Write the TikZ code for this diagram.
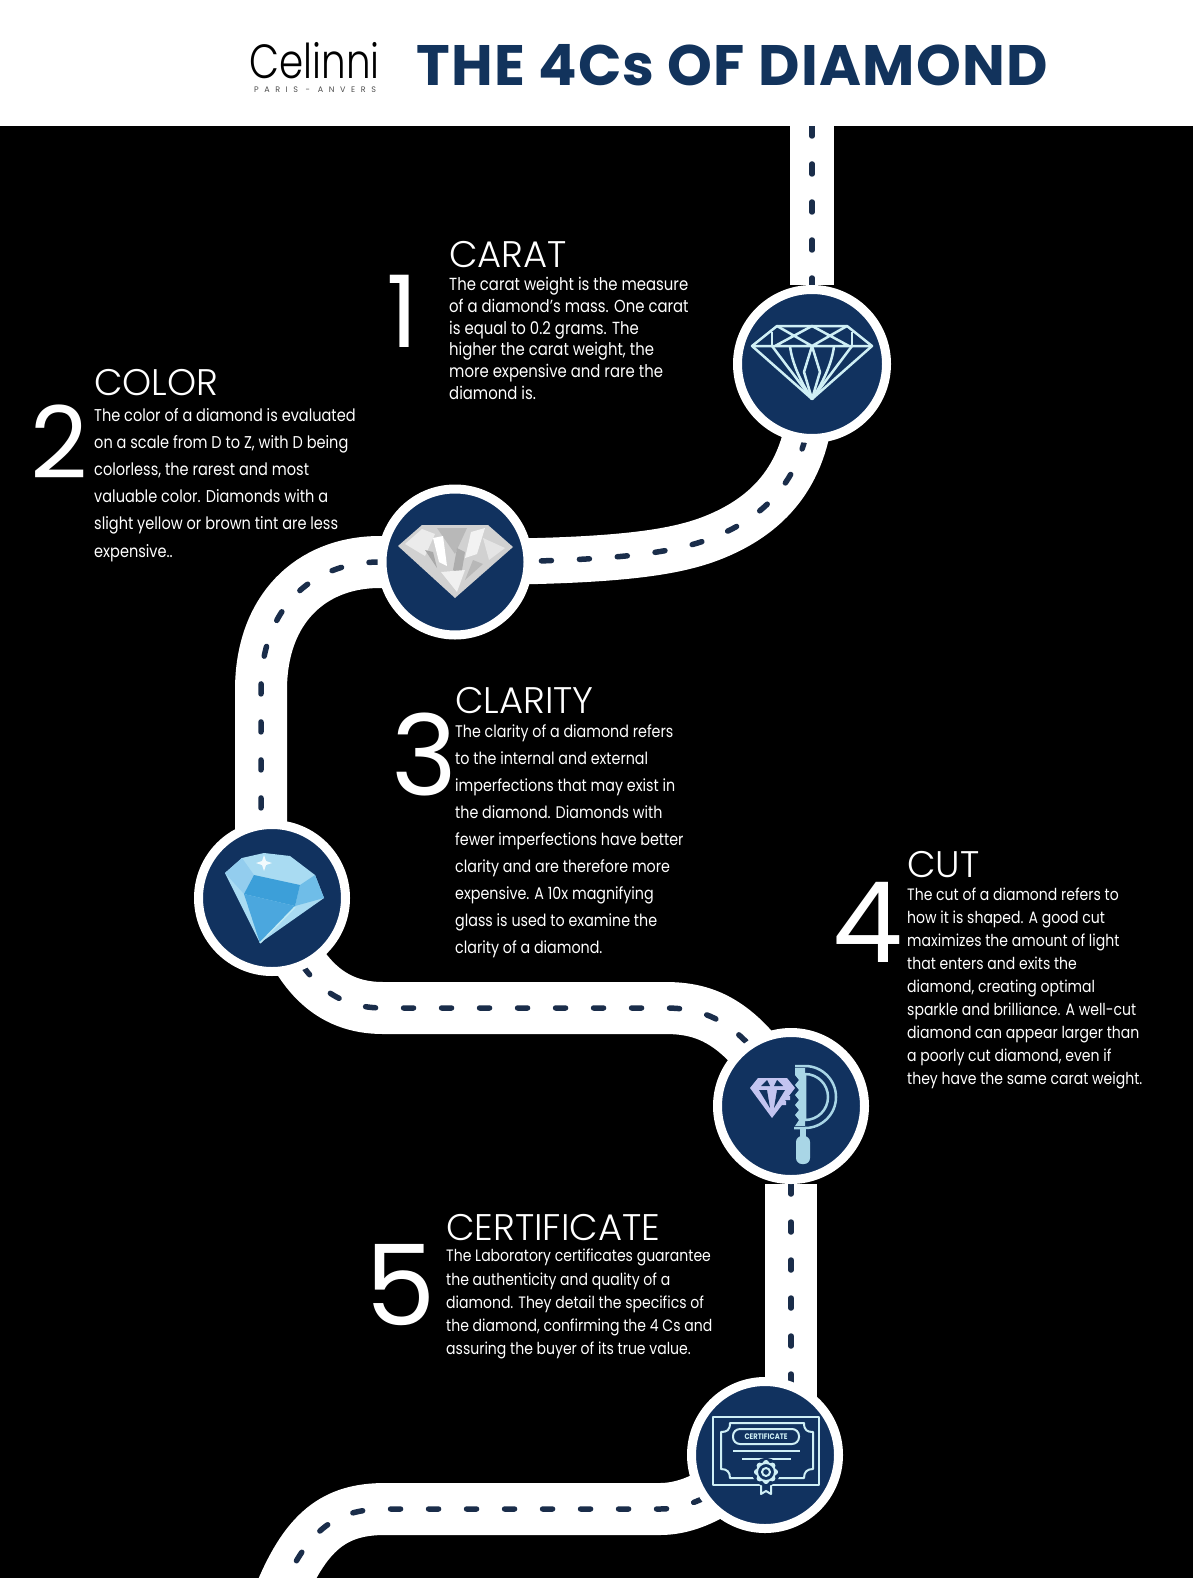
\documentclass[tikz,border=0pt]{standalone}
\usepackage{fontspec}
\usetikzlibrary{backgrounds}
\setmainfont[FakeStretch=0.85]{Poppins}
\newfontfamily\headfont{Poppins Light}
\newfontfamily\digitfont{Poppins}
\newfontfamily\logofont[FakeStretch=0.81]{Poppins Light}
\newfontfamily\subfont[LetterSpace=70]{Poppins}
\newfontfamily\titlefont[LetterSpace=2.2]{Poppins Bold}
\newfontfamily\labelfont[FakeStretch=0.85]{Poppins Bold}
\definecolor{navy}{HTML}{11325F}
\definecolor{titlenavy}{HTML}{12335C}
\definecolor{roadmark}{HTML}{1A2D4A}
\definecolor{iconpale}{HTML}{CFEFF5}
\definecolor{sawblue}{HTML}{A9D6E6}
\definecolor{lavender}{HTML}{C3C4F0}
\definecolor{gemlight}{HTML}{A9DBF2}
\definecolor{gemleft}{HTML}{93CDEE}
\definecolor{gemright}{HTML}{6FBDE8}
\definecolor{gemtable}{HTML}{3C9FD9}
\definecolor{gemlower}{HTML}{4BA7DE}
\definecolor{gemglint}{HTML}{BFE9F5}
\tikzset{
  stepdot/.style={circle,draw=white,line width=9,fill=navy,minimum size=147,inner sep=0},
  road/.style={draw=white,line width=#1,postaction={draw=roadmark,line width=5.5,line cap=round,dash pattern=on 10 off 28}},
  headtext/.style={anchor=base west,inner sep=0,text=white,font=\headfont\fontsize{37}{40}\selectfont},
  bigdigit/.style={anchor=base,inner sep=0,text=white,font=\digitfont\fontsize{#1}{#1}\selectfont},
  bodytext/.style n args={2}{anchor=north west,inner sep=0,text=white,align=left,font=\fontsize{#1}{#2}\selectfont},
  iconline/.style={draw=iconpale,line width=2,line join=round},
}
\begin{document}
\begin{tikzpicture}[x=1pt,y=-1pt]
\useasboundingbox (0,0) rectangle (1193,1578);

\node[stepdot,minimum size=149] (carat) at (812,364) {};
\node[stepdot,minimum size=146] (color) at (455,562) {};
\node[stepdot] (clarity) at (272,898) {};
\node[stepdot] (cut) at (791,1106) {};
\node[stepdot] (cert) at (765,1455) {};

\coordinate (roadtop) at (812,126);
\coordinate (clarityin) at (261,840);
\coordinate (certin) at (791,1450);
\coordinate (roadend) at (277,1602);

\begin{scope}[on background layer]
\clip (0,0) rectangle (1193,1578);
\fill[black] (0,0) rectangle (1193,1578);
\draw[road=44] (roadtop) -- (carat);
\draw[road=46] (carat.center) .. controls (815,440) and (795,497) .. (730,530) .. controls (690,550) and (640,562) .. (color.center);
\draw[road=52] (color.center) -- (380,562) .. controls (310,562) and (261,610) .. (261,690) -- (clarityin);
\draw[road=52] (clarity.center) .. controls (295,975) and (330,1008) .. (383,1008) -- (665,1008) .. controls (705,1008) and (745,1020) .. (cut.center);
\draw[road=52] (cut) -- (certin);
\draw[road=52] (cert.center) .. controls (735,1480) and (700,1509) .. (660,1509) -- (385,1509) .. controls (335,1509) and (305,1530) .. (roadend);
\fill[white] (0,0) rectangle (1193,126);
\end{scope}

\node[anchor=base,inner sep=0,text=black,font=\logofont\fontsize{48}{48}\selectfont] (logo) at (314.5,79) {Celinni};
\node[anchor=base,inner sep=0,text=black!70,font=\subfont\fontsize{8}{8}\selectfont] (logosub) at (315,93) {PARIS - ANVERS};
\node[anchor=base west,inner sep=0,text=titlenavy,font=\titlefont\fontsize{57}{60}\selectfont] (title) at (416,86) {THE 4Cs OF DIAMOND};

\node[bigdigit=100] (one) at (402,347) {1};
\node[headtext] (carathead) at (449,268) {CARAT};
\node[bodytext={17.5}{21.8}] (caratbody) at (449,277) {The carat weight is the measure\\of a diamond's mass. One carat\\is equal to 0.2 grams. The\\higher the carat weight, the\\more expensive and rare the\\diamond is.};

\node[bigdigit=100] (two) at (59.5,478) {2};
\node[headtext] (colorhead) at (94,395) {COLOR};
\node[bodytext={17.1}{27.15}] (colorbody) at (94,408) {The color of a diamond is evaluated\\on a scale from D to Z, with D being\\colorless, the rarest and most\\valuable color. Diamonds with a\\slight yellow or brown tint are less\\expensive..};

\node[bigdigit=112] (three) at (424,795) {3};
\node[headtext] (clarityhead) at (455,713) {CLARITY};
\node[bodytext={16.8}{27.05}] (claritybody) at (455,724) {The clarity of a diamond refers\\to the internal and external\\imperfections that may exist in\\the diamond. Diamonds with\\fewer imperfections have better\\clarity and are therefore more\\expensive. A 10x magnifying\\glass is used to examine the\\clarity of a diamond.};

\node[bigdigit=112] (four) at (868,962) {4};
\node[headtext] (cuthead) at (907,877) {CUT};
\node[bodytext={16.5}{23}] (cutbody) at (907,888) {The cut of a diamond refers to\\how it is shaped. A good cut\\maximizes the amount of light\\that enters and exits the\\diamond, creating optimal\\sparkle and brilliance. A well-cut\\diamond can appear larger than\\a poorly cut diamond, even if\\they have the same carat weight.};

\node[bigdigit=112] (five) at (401,1325) {5};
\node[headtext] (certhead) at (446,1240) {CERTIFICATE};
\node[bodytext={16.5}{23.2}] (certbody) at (446,1249) {The Laboratory certificates guarantee\\the authenticity and quality of a\\diamond. They detail the specifics of\\the diamond, confirming the 4 Cs and\\assuring the buyer of its true value.};

\begin{scope}[shift={(carat.center)},iconline/.append style={line width=2.5}]
\draw[iconline] (-60,-18) -- (-35,-38) -- (35,-38) -- (60,-18) -- (0,35) -- cycle;
\draw[iconline] (-60,-18) -- (60,-18) (-35,-38) -- (0,-18) -- (35,-38) (-37,-18) -- (0,-38) -- (37,-18);
\draw[iconline] (-40,-32) -- (-40,-18) (40,-32) -- (40,-18);
\draw[iconline] (-22,-18) .. controls (-20,0) and (-10,20) .. (0,35) (22,-18) .. controls (20,0) and (10,20) .. (0,35);
\draw[iconline] (-40,-18) -- (0,35) (40,-18) -- (0,35) (0,-18) -- (-8,8) -- (0,35) -- (8,8) -- cycle;
\end{scope}

\begin{scope}[shift={(color.center)}]
\fill[black!18] (-57,-16) -- (-33,-37) -- (33,-37) -- (58,-15) -- (0,36) -- cycle;
\fill[black!8] (-50,-18) -- (-33,-33) -- (-20,-28) -- (-30,-6) -- cycle;
\fill[black!28] (-18,-34) -- (12,-34) -- (0,-8) -- cycle;
\fill[white] (-22,-24) -- (-12,-26) -- (-8,4) -- (-16,0) -- cycle;
\fill[black!5] (16,-30) -- (30,-34) -- (22,-8) -- (10,-4) -- cycle;
\fill[black!32] (2,-14) -- (10,-10) -- (6,14) -- (-2,8) -- cycle;
\fill[black!10] (28,-24) -- (50,-14) -- (34,-2) -- cycle;
\fill[black!34] (-30,-12) -- (-22,-10) -- (-18,6) -- cycle;
\fill[black!6] (-14,10) -- (10,8) -- (2,30) -- cycle;
\fill[black!28] (18,-2) -- (28,2) -- (10,18) -- cycle;
\end{scope}

\begin{scope}[shift={(clarity.center)}]
\fill[gemlight] (-47,-25) -- (-30,-40) -- (-8,-45) -- (18,-42) -- (43,-23) -- (52,0) -- (-12,45) -- cycle;
\fill[gemleft] (-47,-25) -- (-30,-40) -- (-18,-23) -- (-28,-4) -- cycle;
\fill[gemright] (43,-23) -- (52,0) -- (23,8) -- (28,-13) -- cycle;
\fill[gemtable] (-18,-23) -- (28,-13) -- (23,8) -- (-28,-4) -- cycle;
\fill[gemlower] (-28,-4) -- (23,8) -- (-12,45) -- cycle;
\draw[gemglint,line width=1.5] (23,9) -- (-12,45);
\fill[white!85!gemlight] (-8,-43) -- (-6,-37) -- (0,-35) -- (-6,-33) -- (-8,-27) -- (-10,-33) -- (-16,-35) -- (-10,-37) -- cycle;
\end{scope}

\begin{scope}[shift={(cut.center)}]
\fill[lavender] (-41,-18) -- (-33,-28) -- (-4,-28) -- (4,-18) -- (-19,12) -- cycle;
\fill[navy] (-30,-20) -- (-24,-26) -- (-21,-20) -- cycle (-8,-20) -- (-14,-26) -- (-17,-20) -- cycle (-32,-16) -- (-24,-16) -- (-21,2) -- cycle (-6,-16) -- (-14,-16) -- (-17,2) -- cycle;
\fill[lavender] (-5,-10) rectangle (-1,-6) (-9,-5) rectangle (-5,-1);
\draw[sawblue,line width=2.5] (4,-40) -- (14,-40) arc[start angle=-90,end angle=90,radius=31] -- (3,22);
\draw[sawblue,line width=2.5] (14,-32) arc[start angle=-90,end angle=90,radius=23] -- cycle;
\fill[sawblue] (4,-38) -- (14,-38) -- (14,20) -- (4,20) -- (8,14) -- (4,9) -- (8,4) -- (4,-1) -- (8,-6) -- (4,-11) -- (8,-16) -- (4,-21) -- (8,-26) -- (4,-31) -- cycle;
\fill[sawblue] (9,22) rectangle (15,32);
\fill[sawblue,rounded corners=6] (5,30) rectangle (19,58);
\end{scope}

\begin{scope}[shift={([yshift=5pt]cert.center)}]
\draw[iconline] (-52,-33) rectangle (54,35);
\draw[iconline] (-35,-27) -- (39,-27) .. controls (39,-20) and (42,-18) .. (48,-18) -- (48,19) .. controls (42,19) and (39,22) .. (39,28) -- (-35,28) .. controls (-35,22) and (-38,19) .. (-44,19) -- (-44,-18) .. controls (-38,-18) and (-35,-20) .. (-35,-27) -- cycle;
\draw[iconline,rounded corners=7] (-32,-21) rectangle (34,-6);
\node[inner sep=0,text=iconpale,font=\labelfont\fontsize{8}{8}\selectfont] (certlabel) at (1,-13) {CERTIFICATE};
\draw[iconline] (-32,1) -- (35,1) (-23,9) -- (26,9);
\draw[iconline,fill=navy] (-4,26) -- (-4,44) -- (1,41) -- (6,44) -- (6,26);
\fill[navy] (1,22) circle (14);
\foreach \gearangle in {0,45,...,315}
  \draw[iconline,fill=navy] (1,22) ++(\gearangle:9) circle (2);
\draw[iconline,fill=navy] (1,22) circle (9);
\draw[iconline] (1,22) circle (4);
\end{scope}
\end{tikzpicture}
\end{document}
